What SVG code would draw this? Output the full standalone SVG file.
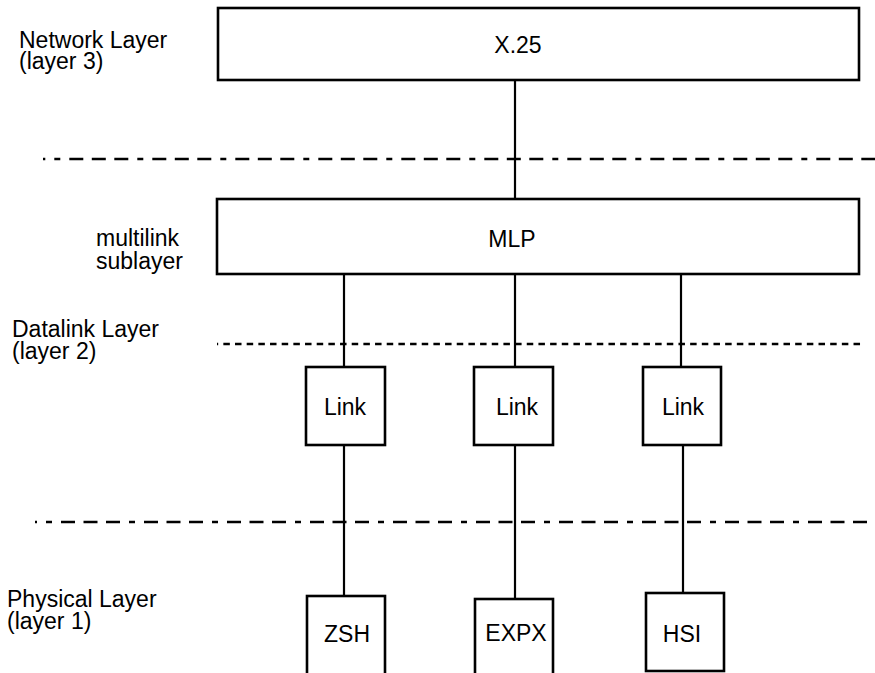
<svg xmlns="http://www.w3.org/2000/svg" width="875" height="673" viewBox="0 0 875 673">
<style>
  .box { fill: #ffffff; stroke: #000000; stroke-width: 2.6; }
  .lbl { font-family: "Liberation Sans", Arial, sans-serif; font-size: 23px; fill: #000000; }
  .c { text-anchor: middle; }
  .conn { stroke: #000000; stroke-width: 2.2; fill: none; }
  .dashdot { stroke: #000000; stroke-width: 2.6; fill: none; stroke-dasharray: 14 8.5 14 8.5 14 9 6 9; }
  .dash { stroke: #000000; stroke-width: 2.6; fill: none; stroke-dasharray: 6.5 5.17; }
</style>
<rect width="875" height="673" fill="#ffffff"/>
<g id="layer-lines">
  <line class="dashdot" x1="43" y1="159" x2="875" y2="159" stroke-dashoffset="56.7"/>
  <line class="dash" x1="217" y1="344" x2="863" y2="344" stroke-dashoffset="5.33"/>
  <line class="dashdot" x1="35" y1="522" x2="875" y2="522" stroke-dashoffset="57"/>
</g>
<g id="layer-labels">
  <text class="lbl" x="19" y="48">Network Layer</text>
  <text class="lbl" x="19" y="69">(layer 3)</text>
  <text class="lbl" x="96" y="246">multilink</text>
  <text class="lbl" x="96" y="269">sublayer</text>
  <text class="lbl" x="12" y="337">Datalink Layer</text>
  <text class="lbl" x="12" y="359">(layer 2)</text>
  <text class="lbl" x="7" y="607">Physical Layer</text>
  <text class="lbl" x="7" y="629">(layer 1)</text>
</g>
<g id="connectors">
  <line class="conn" x1="515" y1="80" x2="515" y2="199"/>
  <line class="conn" x1="344" y1="274" x2="344" y2="367"/>
  <line class="conn" x1="515" y1="274" x2="515" y2="367"/>
  <line class="conn" x1="681" y1="274" x2="681" y2="367"/>
  <line class="conn" x1="344" y1="445" x2="344" y2="596"/>
  <line class="conn" x1="515" y1="445" x2="515" y2="599"/>
  <line class="conn" x1="683" y1="445" x2="683" y2="593"/>
</g>
<g id="x25">
  <rect class="box" x="218" y="8" width="641" height="72"/>
  <text class="lbl c" x="518" y="53">X.25</text>
</g>
<g id="mlp">
  <rect class="box" x="217" y="199" width="642" height="75"/>
  <text class="lbl c" x="512" y="247">MLP</text>
</g>
<g id="link1">
  <rect class="box" x="306" y="367" width="79" height="78"/>
  <text class="lbl c" x="345" y="415">Link</text>
</g>
<g id="link2">
  <rect class="box" x="474" y="367" width="79" height="78"/>
  <text class="lbl c" x="517" y="415">Link</text>
</g>
<g id="link3">
  <rect class="box" x="643" y="367" width="78" height="78"/>
  <text class="lbl c" x="683" y="415">Link</text>
</g>
<g id="zsh">
  <rect class="box" x="307" y="596" width="78" height="90"/>
  <text class="lbl c" x="347" y="642">ZSH</text>
</g>
<g id="expx">
  <rect class="box" x="475" y="599" width="78" height="90"/>
  <text class="lbl c" x="516" y="641">EXPX</text>
</g>
<g id="hsi">
  <rect class="box" x="646" y="593" width="78" height="78"/>
  <text class="lbl c" x="682" y="642">HSI</text>
</g>
</svg>
